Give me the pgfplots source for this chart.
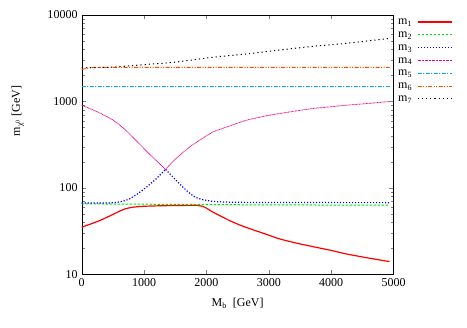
\documentclass[border=0pt,12pt]{standalone}
\usepackage{fontspec}
\setmainfont{Liberation Serif}
\usepackage{pgfplots}
\pgfplotsset{compat=1.18}
\definecolor{lt6}{rgb}{1,0.3,0}
\definecolor{lt2}{rgb}{0,0.9,0}
\tikzset{
 sA/.style={draw=red, line width=1.2pt, solid},
 sB/.style={draw=lt2, line width=1pt, dash pattern=on 2.5pt off 1.5pt},
 sC/.style={draw=blue, line width=1.2pt, dash pattern=on 1.2pt off 1.8pt},
 sD/.style={draw=magenta, line width=0.8pt, dash pattern=on 0.8pt off 0.6pt},
 sE/.style={draw=cyan, line width=1pt, dash pattern=on 4pt off 1.5pt on 1pt off 1.5pt},
 sF/.style={draw=lt6, line width=1pt, dash pattern=on 4pt off 1.5pt on 1pt off 1.5pt on 1pt off 1.5pt},
 sG/.style={draw=black, line width=1pt, dash pattern=on 1.2pt off 3pt},
}
\newcommand{\legm}[1]{\raisebox{0pt}[7pt][2pt]{m\textsubscript{#1}}}
\begin{document}
\begin{tikzpicture}
\begin{axis}[name=ax, scale only axis, width=311.8pt, height=259.5pt,
 ymode=log, xmin=0, xmax=5000, ymin=10, ymax=10000,
 xtick={0,1000,2000,3000,4000,5000}, ytick={10,100,1000,10000},
 log ticks with fixed point,
 /pgf/number format/assume math mode=true,
 /pgf/number format/1000 sep={},
 scaled x ticks=false,
 xlabel={M\textsubscript{b}\ \ [GeV]},
 ylabel={m\textsubscript{χ\textsuperscript{0}} [GeV]},
 ylabel style={at={(axis description cs:-0.205,0.63)}, anchor=center},
 xlabel style={at={(axis description cs:0.5,-0.112)}, anchor=center},
 legend plot pos=right,
 legend cell align=left,
 legend style={draw=white, at={(axis description cs:1,1)}, anchor=north west, xshift=2.5pt, yshift=-0.5pt, inner sep=0pt,
   row sep=0pt, column sep=3pt},
 legend image code/.code={\draw[#1] (0pt,0pt) -- (34pt,0pt);},
]
\addplot[sA, smooth, tension=0.4] coordinates {(0,35.3)(150,38.5)(288,42)(450,47.5)(609,54)(700,57.5)(822,60)(1000,61.5)(1300,62.4)(1600,62.8)(1850,63)(1950,61)(2000,58.5)(2105,52.6)(2250,46.5)(2372,42)(2550,37)(2745,32.9)(3000,28.5)(3173,25.8)(3450,23)(3707,21)(4000,19)(4241,17.3)(4600,15.5)(4936,14.1)};
\addlegendentry{\legm{1}}
\addplot[sB] coordinates {(0,65.5)(1000,65)(2000,64.3)(3000,63.8)(4936,63.3)};
\addlegendentry{\legm{2}}
\addplot[sC, smooth, tension=0.4] coordinates {(0,67)(300,67)(502,67.5)(650,70)(769,75)(900,86)(1036,102)(1196,128)(1346,164)};
\addlegendentry{\legm{3}}
\addplot[sC, smooth, tension=0.4, forget plot] coordinates {(1346,164)(1517,122)(1677,94)(1800,80)(1891,75)(2000,72)(2105,70)(2400,68.5)(3000,68)(4936,67.7)};
\addplot[sD, smooth, tension=0.4] coordinates {(0,906)(250,760)(502,610)(700,470)(930,320)(1100,240)(1250,190)(1346,164)};
\addlegendentry{\legm{4}}
\addplot[sD, smooth, tension=0.4, forget plot] coordinates {(1346,164)(1500,215)(1731,298)(1900,360)(2105,444)(2400,530)(2640,607)(2900,670)(3173,726)(3450,780)(3707,830)(4000,870)(4241,906)(4600,950)(4936,1000)};
\addplot[sE] coordinates {(0,1480)(4936,1480)};
\addlegendentry{\legm{5}}
\addplot[sF] coordinates {(0,2350)(100,2430)(200,2480)(4936,2480)};
\addlegendentry{\legm{6}}
\addplot[sG, smooth, tension=0.4] coordinates {(0,2450)(500,2500)(1036,2680)(1500,2850)(2105,3250)(2600,3520)(3173,3930)(3700,4340)(4241,4700)(4936,5370)};
\addlegendentry{\legm{7}}
\end{axis}
\path (ax.south west) ++(-81.7pt,-52.5pt) coordinate (bba);
\path (ax.north east) ++(73.5pt,15pt) coordinate (bbb);
\path (bba) rectangle (bbb);
\end{tikzpicture}
\end{document}
